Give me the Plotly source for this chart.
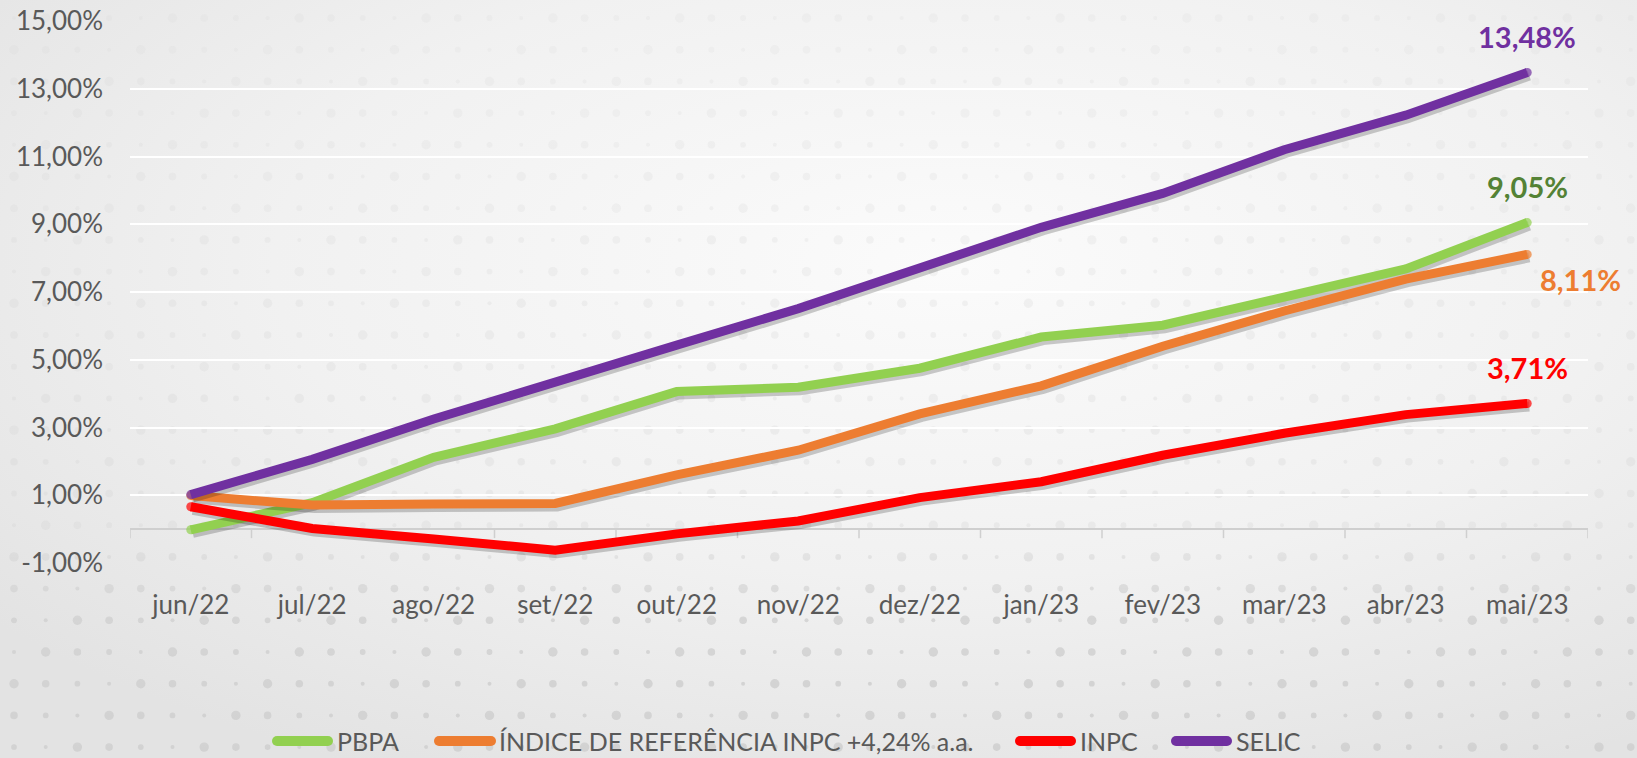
import base64
import plotly.graph_objects as go

# ---------------- data ----------------
months = ["jun/22", "jul/22", "ago/22", "set/22", "out/22", "nov/22",
          "dez/22", "jan/23", "fev/23", "mar/23", "abr/23", "mai/23"]
pbpa = [-0.02, 0.78, 2.12, 2.96, 4.06, 4.19, 4.75, 5.67, 6.02, 6.85, 7.68, 9.05]
ref_inpc = [0.99, 0.71, 0.74, 0.76, 1.60, 2.33, 3.40, 4.23, 5.40, 6.44, 7.38, 8.11]
inpc = [0.66, 0.02, -0.29, -0.62, -0.14, 0.24, 0.93, 1.40, 2.18, 2.83, 3.38, 3.71]
selic = [1.02, 2.06, 3.25, 4.36, 5.43, 6.51, 7.70, 8.91, 9.91, 11.20, 12.22, 13.48]

series_names = ["PBPA", "ÍNDICE DE REFERÊNCIA INPC +4,24% a.a.", "INPC", "SELIC"]
series_values = [pbpa, ref_inpc, inpc, selic]
series_colors = ["#92D050", "#ED7D31", "#FF0000", "#7030A0"]
label_colors = ["#548235", "#ED7D31", "#FF0000", "#7030A0"]
end_labels = ["9,05%", "8,11%", "3,71%", "13,48%"]

y_ticks = [-1, 1, 3, 5, 7, 9, 11, 13, 15]
y_ticktext = ["-1,00%", "1,00%", "3,00%", "5,00%", "7,00%", "9,00%", "11,00%", "13,00%", "15,00%"]

# ---------------- layout geometry ----------------
W, H = 1637, 758
ML, MR, MT, MB = 130, 49, 21, 195
PW, PH = W - ML - MR, H - MT - MB

def px(xp):
    return (xp - ML) / PW

def py(yp):
    return (H - MB - yp) / PH

FONT = "Lato, 'Open Sans', sans-serif"
GREY = "#595959"

# ---------------- background (gradient + dots) ----------------
dots = []
step = 31.7
ny = int(H / step) + 2
nx = int(W / step) + 2
for j in range(ny):
    for i in range(nx):
        cx = 14 + i * step
        cy = 18 + j * step
        r = 2.0 + ((i * 7 + j * 3) % 4) * 0.9
        dots.append(f'<circle cx="{cx:.1f}" cy="{cy:.1f}" r="{r:.1f}"/>')
svg = f'''<svg xmlns="http://www.w3.org/2000/svg" width="{W}" height="{H}" viewBox="0 0 {W} {H}">
<defs>
<radialGradient id="g" cx="0.58" cy="0.35" r="0.75">
<stop offset="0" stop-color="#fbfbfb"/>
<stop offset="0.55" stop-color="#f1f1f1"/>
<stop offset="1" stop-color="#e3e3e3"/>
</radialGradient>
<linearGradient id="m" x1="0" y1="0" x2="0" y2="1">
<stop offset="0" stop-color="#fff" stop-opacity="0.15"/>
<stop offset="0.7" stop-color="#fff" stop-opacity="0.3"/>
<stop offset="0.82" stop-color="#fff" stop-opacity="0.9"/>
<stop offset="1" stop-color="#fff" stop-opacity="1"/>
</linearGradient>
<mask id="mk"><rect width="{W}" height="{H}" fill="url(#m)"/></mask>
</defs>
<rect width="{W}" height="{H}" fill="url(#g)"/>
<g fill="#d2d2d2" mask="url(#mk)">{''.join(dots)}</g>
</svg>'''
bg_src = "data:image/svg+xml;base64," + base64.b64encode(svg.encode("utf-8")).decode("ascii")

# ---------------- figure ----------------
fig = go.Figure()
xs = list(range(len(months)))
dx, dy = 2.0 / (PW / 12), -3.0 / (PH / 16)

for name, vals, col in zip(series_names, series_values, series_colors):
    fig.add_trace(go.Scatter(
        x=[v + dx for v in xs], y=[v + dy for v in vals], mode="lines",
        line=dict(color="rgba(0,0,0,0.2)", width=10),
        hoverinfo="skip", showlegend=False))
    sizes = [9] + [0] * (len(vals) - 2) + [9]
    fig.add_trace(go.Scatter(
        x=xs, y=vals, mode="lines+markers", name=name,
        line=dict(color=col, width=9),
        marker=dict(size=sizes, color=col, line=dict(width=0)),
        showlegend=False))

# end-value labels
shifts = [(0, 36), (53, -25), (0, 36), (0, 36)]
for vals, txt, col, (xsft, ysft) in zip(series_values, end_labels, label_colors, shifts):
    fig.add_annotation(x=xs[-1], y=vals[-1], text=f"<b>{txt}</b>", showarrow=False,
                       xshift=xsft, yshift=ysft, xanchor="center", yanchor="middle",
                       font=dict(family=FONT, size=29, color=col))

shapes = []
# category boundary tick marks on the zero line
for k in range(len(months) + 1):
    shapes.append(dict(type="line", xref="x", yref="y", x0=k - 0.5, x1=k - 0.5,
                       ysizemode="pixel", yanchor=0, y0=0, y1=-9,
                       line=dict(color="#cfcfcf", width=1.5), layer="below"))

# manual legend
leg_y = 741
leg_lines = [(272, 333), (434, 496), (1015, 1076), (1171, 1232)]
leg_text_x = [335, 497, 1078, 1234]
for (a, b), tx, name, col in zip(leg_lines, leg_text_x, series_names, series_colors):
    shapes.append(dict(type="line", xref="paper", yref="paper",
                       x0=px(a + 5), x1=px(b - 5), y0=py(leg_y), y1=py(leg_y),
                       line=dict(color=col, width=10)))
    for e in (a + 5, b - 5):
        shapes.append(dict(type="circle", xref="paper", yref="paper",
                           xsizemode="pixel", ysizemode="pixel",
                           xanchor=px(e), yanchor=py(leg_y),
                           x0=-5, x1=5, y0=-5, y1=5,
                           fillcolor=col, line=dict(width=0)))
    fig.add_annotation(xref="paper", yref="paper", x=px(tx), y=py(leg_y),
                       text=name, showarrow=False, xanchor="left", yanchor="middle",
                       font=dict(family=FONT, size=25, color=GREY))

fig.update_layout(
    width=W, height=H,
    margin=dict(l=ML, r=MR, t=MT, b=MB, pad=0, autoexpand=False),
    paper_bgcolor="#eeeeee",
    plot_bgcolor="rgba(0,0,0,0)",
    showlegend=False,
    shapes=shapes,
    images=[dict(source=bg_src, xref="paper", yref="paper",
                 x=-ML / PW, y=1 + MT / PH, sizex=W / PW, sizey=H / PH,
                 xanchor="left", yanchor="top", sizing="stretch", layer="below")],
    xaxis=dict(range=[-0.5, len(months) - 0.5], tickmode="array", tickvals=xs,
               ticktext=months, showgrid=False, zeroline=False, showline=False,
               ticks="", ticklabelstandoff=24, automargin=False,
               tickfont=dict(family=FONT, size=26, color=GREY)),
    yaxis=dict(range=[-1, 15], tickmode="array", tickvals=y_ticks, ticktext=y_ticktext,
               showgrid=True, gridcolor="#ffffff", gridwidth=2,
               zeroline=True, zerolinecolor="#cfcfcf", zerolinewidth=1.5,
               showline=False, ticks="", ticklabelstandoff=26, automargin=False,
               tickfont=dict(family=FONT, size=26, color=GREY)),
)

fig.write_html("out.html", config={"displayModeBar": False},
               post_script="document.body.style.margin='0';document.body.style.overflow='hidden';")
